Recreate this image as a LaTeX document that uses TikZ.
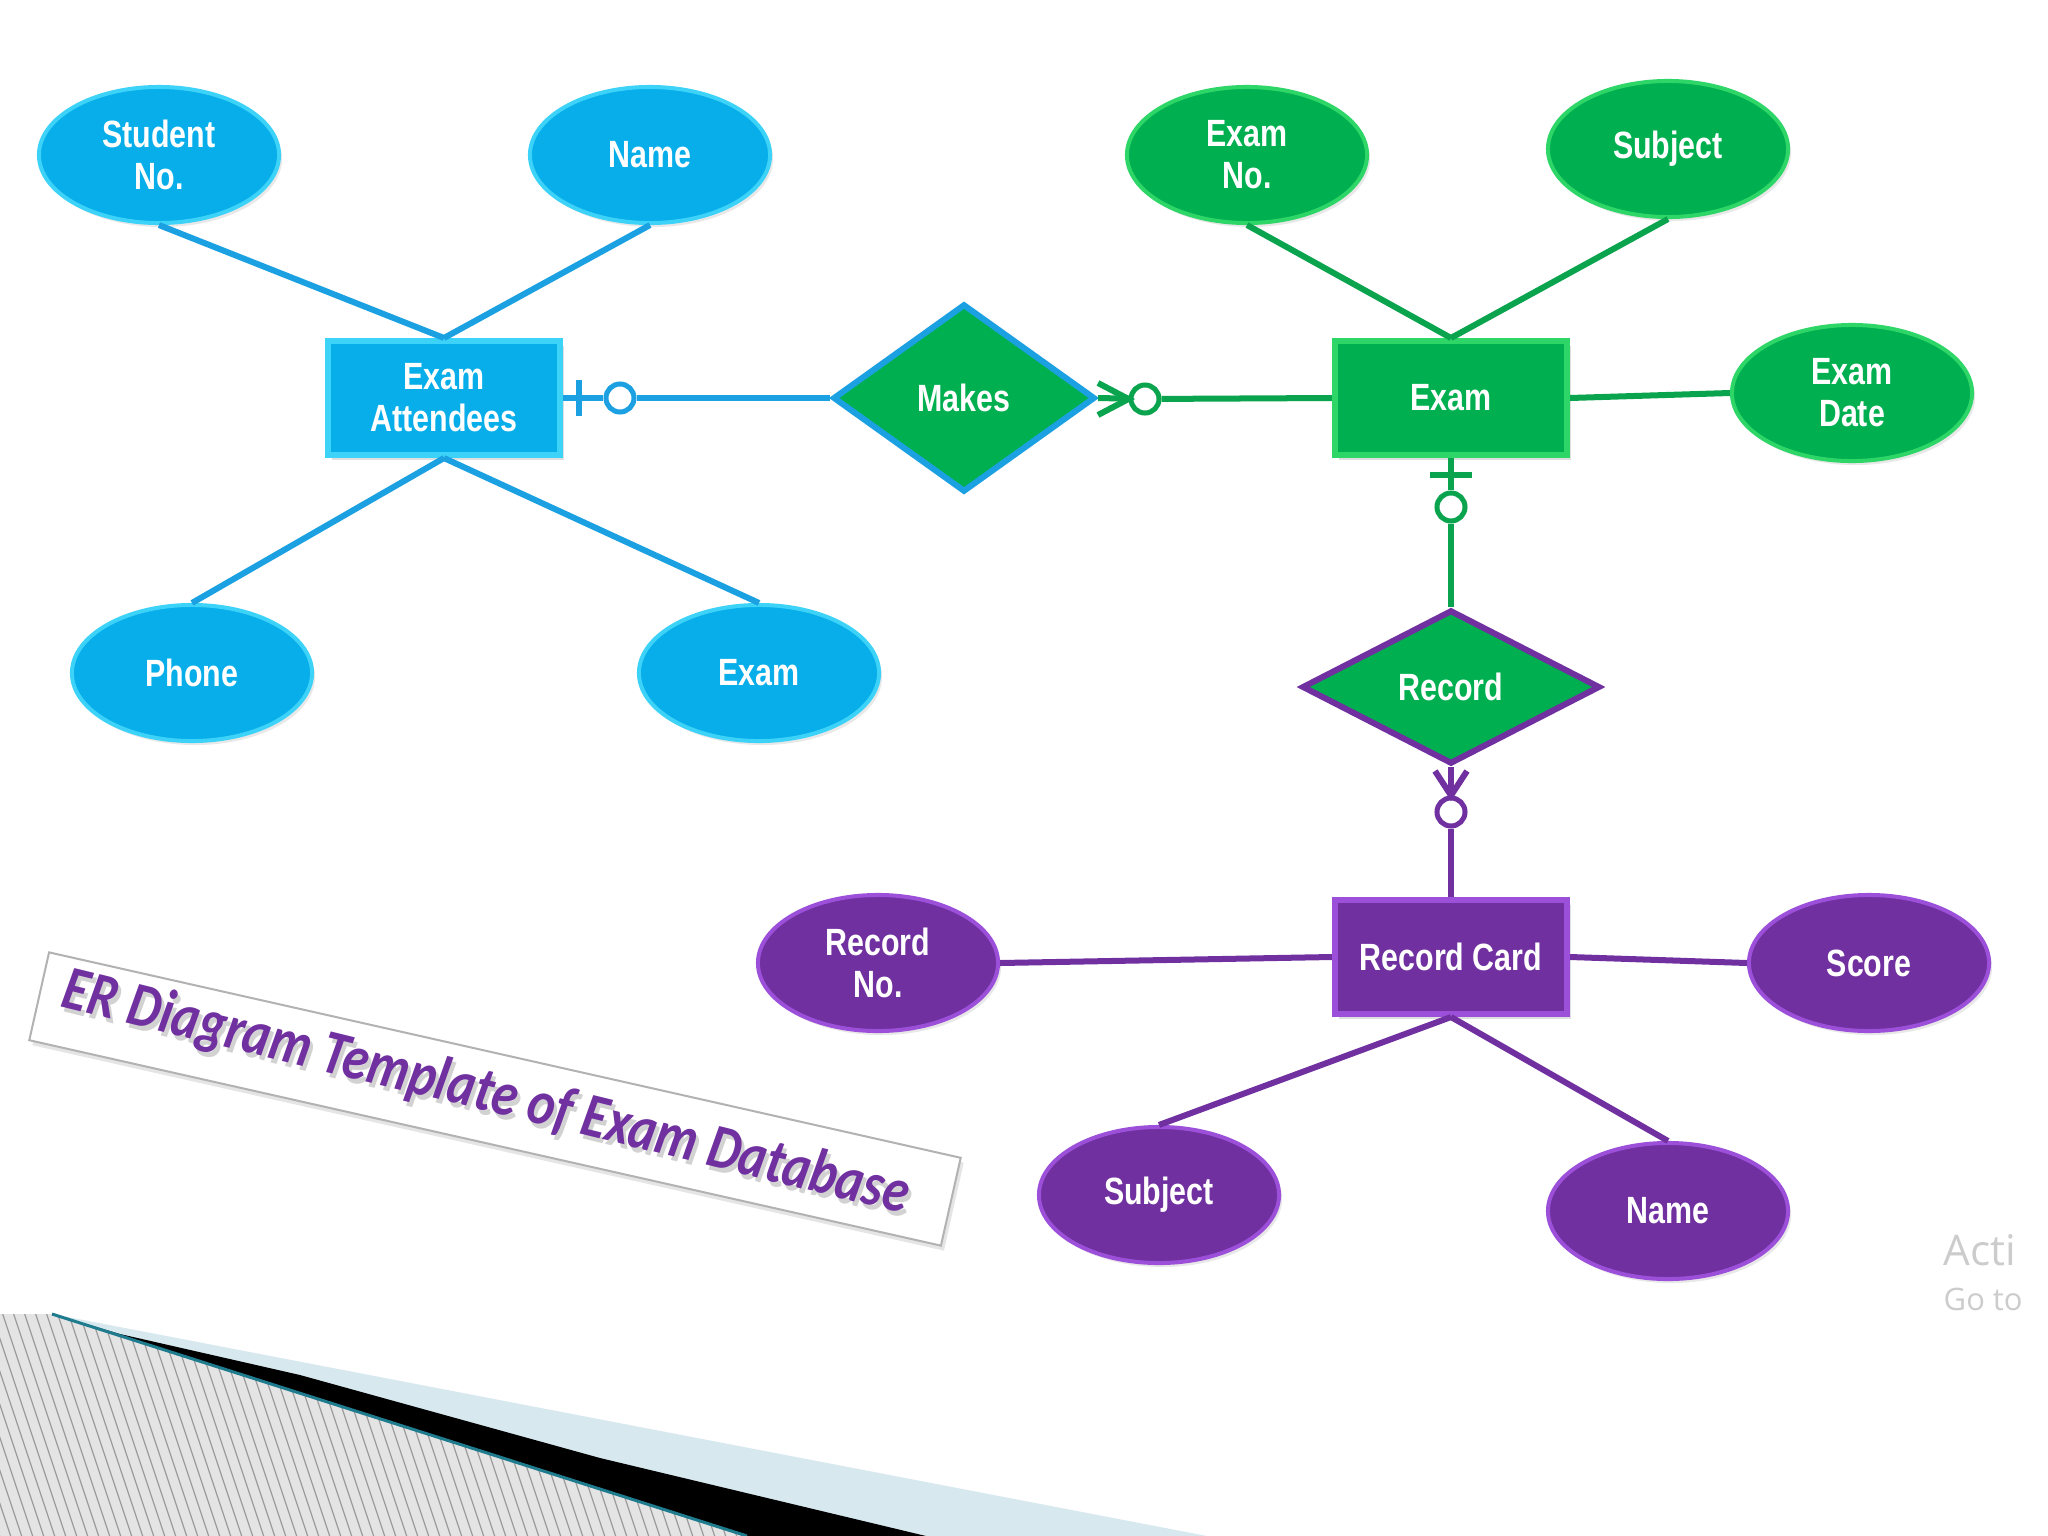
\documentclass[tikz,border=0pt]{standalone}
\usepackage{fontspec}
\usetikzlibrary{shapes.geometric,shadows}
\newfontfamily\erfont[FakeStretch=0.8]{Liberation Sans}
\newfontfamily\titlefont{Carlito}
\newfontfamily\winfont{Open Sans}
\definecolor{bfill}{HTML}{08AEE9}
\definecolor{bring}{HTML}{3DD2F8}
\definecolor{bline}{HTML}{1BA1E2}
\definecolor{gfill}{HTML}{00B050}
\definecolor{gring}{HTML}{2ED668}
\definecolor{gline}{HTML}{0AA34E}
\definecolor{pfill}{HTML}{7030A0}
\definecolor{pring}{HTML}{9C50DA}
\definecolor{pline}{HTML}{7030A0}
\definecolor{hatchbg}{HTML}{E4E4E4}
\definecolor{hatchln}{HTML}{9A9A9A}
\definecolor{lightband}{HTML}{D7E8EF}
\definecolor{tealln}{HTML}{1E7C8E}
\tikzset{
  attr/.style={ellipse, minimum width=2.4cm, minimum height=1.36cm, inner sep=0pt,
    line width=0.04cm, text=white, align=center,
    font=\erfont\bfseries\fontsize{10.8}{12}\selectfont,
    drop shadow={opacity=0.18, shadow xshift=0.03cm, shadow yshift=-0.04cm}},
  battr/.style={attr, fill=bfill, draw=bring},
  gattr/.style={attr, fill=gfill, draw=gring},
  pattr/.style={attr, fill=pfill, draw=pring},
  ent/.style={rectangle, minimum width=2.32cm, minimum height=1.14cm, inner sep=0pt,
    line width=0.06cm, text=white, align=center,
    font=\erfont\bfseries\fontsize{10.8}{12}\selectfont,
    drop shadow={opacity=0.25, shadow xshift=0.04cm, shadow yshift=-0.05cm}},
  rel/.style={diamond, inner sep=0pt, line width=0.06cm, fill=gfill, text=white,
    font=\erfont\bfseries\fontsize{10.8}{12}\selectfont},
  bconn/.style={draw=bline, line width=0.06cm},
  gconn/.style={draw=gline, line width=0.06cm},
  pconn/.style={draw=pline, line width=0.06cm},
  ringmark/.style={circle, minimum size=0.28cm, inner sep=0pt, line width=0.05cm, fill=white},
  titletext/.style={rotate=-13.8, yscale=1.2, inner sep=0pt,
    font=\titlefont\bfseries\itshape\fontsize{14.8}{17}\selectfont},
}
\begin{document}
\begin{tikzpicture}[x=0.01cm, y=-0.01cm]
\fill[white] (0,0) rectangle (2048,1536);
\useasboundingbox (0,0) rectangle (2048,1536);

% bottom-left decoration
\fill[lightband] (52,1314) -- (1207,1536) -- (747,1536) -- cycle;
\fill[black] (52,1314) -- (120,1334) -- (300,1375) -- (600,1458) -- (926,1536) -- (747,1536) -- cycle;
\begin{scope}
  \clip (0,1314) -- (52,1314) -- (747,1536) -- (0,1536) -- cycle;
  \fill[hatchbg] (0,1300) rectangle (760,1540);
  \foreach \x in {-90,-79,...,760} {
    \draw[hatchln, line width=0.012cm] (\x,1300) -- (\x+80,1540);
  }
\end{scope}
\draw[tealln, line width=0.03cm] (52,1314) -- (747,1536);

% title banner
\node[rectangle, rotate=-12.7, minimum width=9.34cm, minimum height=0.9cm, draw=gray!60,
  fill=white, line width=0.02cm,
  drop shadow={opacity=0.2, shadow xshift=0.03cm, shadow yshift=-0.05cm}] (banner) at (495,1099) {};
\node[titletext, text=gray!35] (titleshadow) at (489,1099) {ER Diagram Template of Exam Database};
\node[titletext, text=pfill] (title) at (486,1094) {ER Diagram Template of Exam Database};

% blue part
\node[battr] (stu) at (159,155) {Student\\No.};
\node[battr] (bname) at (650,155) {Name};
\node[battr] (phone) at (192,673) {Phone};
\node[battr] (bexam) at (759,673) {Exam};
\node[ent, fill=bfill, draw=bring] (att) at (444,398) {Exam\\Attendees};

% green part
\node[gattr] (examno) at (1247,155) {Exam\\No.};
\node[gattr] (subj) at (1668,149) {Subject};
\node[gattr] (edate) at (1852,393) {Exam\\Date};
\node[ent, fill=gfill, draw=gring] (exam) at (1451,398) {Exam};
\node[rel, draw=bline, minimum width=2.62cm, minimum height=1.88cm] (makes) at (964,398) {Makes};
\node[rel, draw=pline, minimum width=2.98cm, minimum height=1.54cm] (record) at (1451,687) {Record};

% purple part
\node[ent, fill=pfill, draw=pring] (rc) at (1451,957) {Record Card};
\node[pattr] (rno) at (878,963) {Record\\No.};
\node[pattr] (score) at (1869,963) {Score};
\node[pattr] (subj2) at (1159,1195) {Subject};
\node[pattr] (name2) at (1668,1211) {Name};

% attribute connectors
\draw[bconn] (stu.south) -- (att.north);
\draw[bconn] (bname.south) -- (att.north);
\draw[bconn] (phone.north) -- (att.south);
\draw[bconn] (bexam.north) -- (att.south);
\draw[gconn] (examno.south) -- (exam.north);
\draw[gconn] (subj.south) -- (exam.north);
\draw[gconn] (exam.east) -- (edate.west);
\draw[pconn] (rno.east) -- (rc.west);
\draw[pconn] (rc.east) -- (score.west);
\draw[pconn] (rc.south) -- (subj2.north);
\draw[pconn] (rc.south) -- (name2.north);

% relationship connectors with cardinality marks
\node[ringmark, draw=bline] (c1) at (620,398) {};
\draw[bconn] (att.east) -- (c1) -- (makes.west);
\draw[bconn] (579,380) -- (579,416);

\node[ringmark, draw=gline] (c2) at (1145,399) {};
\draw[gconn] (makes.east) -- (c2) -- (exam.west);
\draw[gconn] (1098,383) -- (c2.west) -- (1098,415);

\node[ringmark, draw=gline] (c3) at (1451,507) {};
\draw[gconn] (exam.south) -- (c3) -- (record.north);
\draw[gconn] (1430,475) -- (1472,475);

\node[ringmark, draw=pline] (c4) at (1451,812) {};
\draw[pconn] (record.south) -- (c4) -- (rc.north);
\draw[pconn] (1435,771) -- (c4.north) -- (1467,771);

% watermark
\node[anchor=base west, inner sep=0pt, text=gray!40, font=\winfont\fontsize{12}{13}\selectfont] (act) at (1943,1265) {Acti};
\node[anchor=base west, inner sep=0pt, text=gray!40, font=\winfont\fontsize{8.8}{10}\selectfont] (goto) at (1943,1310) {Go to};
\end{tikzpicture}
\end{document}
